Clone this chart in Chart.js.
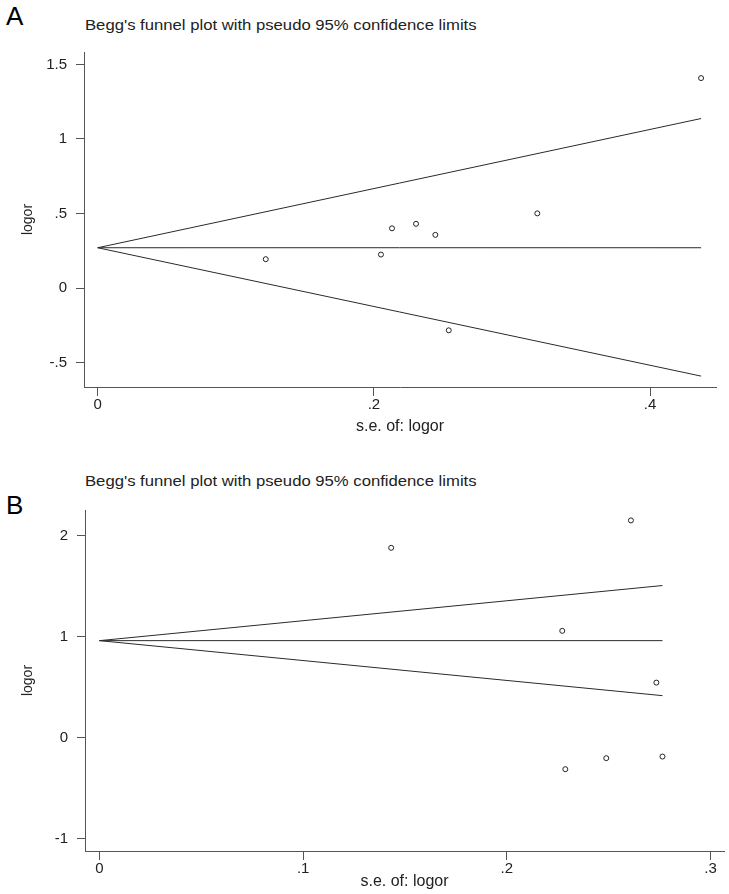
<!DOCTYPE html>
<html>
<head>
<meta charset="utf-8">
<script src="https://cdn.jsdelivr.net/npm/chart.js@4/dist/chart.umd.min.js"></script>
<style>
  body { margin: 0; background: #fff; width: 729px; height: 894px; position: relative; overflow: hidden; }
  canvas { position: absolute; left: 0; }
  .panel { position: absolute; left: 6px; font-family: "Liberation Sans", Arial, sans-serif; font-size: 26px; color: #000; }
  .title { position: absolute; left: 85px; font-family: "Liberation Sans", Arial, sans-serif; font-size: 14.5px; color: #222;
           transform: scaleX(1.15); transform-origin: left top; white-space: nowrap; }
</style>
</head>
<body>
<div class="panel" style="top:1px">A</div>
<div class="title" style="top:17px">Begg's funnel plot with pseudo 95% confidence limits</div>
<canvas id="chartA" width="729" height="406" style="top:34px"></canvas>

<div class="panel" style="top:490px">B</div>
<div class="title" style="top:473px">Begg's funnel plot with pseudo 95% confidence limits</div>
<canvas id="chartB" width="729" height="402" style="top:492px"></canvas>

<script>
// DATA
// -----------------------------------------------------------------------------
// Panel A studies
var seA    = [0.1217, 0.2051, 0.2131, 0.2305, 0.2445, 0.2542, 0.3183, 0.4369];
var logorA = [0.194, 0.225, 0.401, 0.431, 0.357, -0.283, 0.501, 1.408];
// Panel A pseudo 95% limits (start, end)
var limSeA    = [0, 0.4369];
var upperA    = [0.2706, 1.137];
var centerA   = [0.2706, 0.2706];
var lowerA    = [0.2706, -0.590];
var xTicksA   = [0, 0.2, 0.4];
var yTicksA   = [-0.5, 0, 0.5, 1, 1.5];

// Panel B studies
var seB    = [0.1432, 0.2272, 0.2287, 0.2488, 0.2609, 0.2734, 0.2764];
var logorB = [1.877, 1.056, -0.312, -0.203, 2.148, 0.544, -0.187];
// Panel B pseudo 95% limits (start, end)
var limSeB    = [0, 0.2764];
var upperB    = [0.959, 1.504];
var centerB   = [0.959, 0.959];
var lowerB    = [0.959, 0.415];
var xTicksB   = [0, 0.1, 0.2, 0.3];
var yTicksB   = [-1, 0, 1, 2];

// HELPERS
// -----------------------------------------------------------------------------
function pts(xs, ys) {
    return xs.map(function(x, i) { return { x: x, y: ys[i] }; });
}

// Stata style: ".5", "-.5"
function stataLabel(v) {
    var s = String(Math.round(v * 100) / 100);
    return s.replace(/^0\./, '.').replace(/^-0\./, '-.');
}

var fontFamily = '"Liberation Sans", Arial, sans-serif';

function lineSet(xs, ys) {
    return {
        type: 'line',
        data: pts(xs, ys),
        showLine: true,
        borderColor: '#2a2a2a',
        borderWidth: 1,
        pointRadius: 0,
        fill: false
    };
}

function makeChart(id, p) {
    return new Chart(document.getElementById(id), {
        type: 'scatter',
        data: {
            datasets: [
                {
                    data: pts(p.se, p.logor),
                    pointStyle: 'circle',
                    pointRadius: 2.5,
                    pointBorderWidth: 1,
                    pointBorderColor: '#222',
                    pointBackgroundColor: 'rgba(255,255,255,0)'
                },
                lineSet(p.limSe, p.upper),
                lineSet(p.limSe, p.center),
                lineSet(p.limSe, p.lower)
            ]
        },
        options: {
            responsive: false,
            animation: false,
            layout: { padding: { top: 10, right: p.padRight, left: 0, bottom: 0 } },
            plugins: { legend: { display: false }, tooltip: { enabled: false } },
            scales: {
                x: {
                    type: 'linear',
                    min: p.xMin, max: p.xMax,
                    afterBuildTicks: function(s) { s.ticks = p.xTicks.map(function(v) { return { value: v }; }); },
                    afterFit: function(s) { s.height = p.xHeight; },
                    grid: { drawOnChartArea: false, drawTicks: true, tickLength: 9, color: '#555' },
                    border: { display: true, color: '#555', width: 1 },
                    ticks: {
                        padding: 0, color: '#222', maxRotation: 0,
                        font: { family: fontFamily, size: 15 },
                        callback: function(v) { return stataLabel(v); }
                    },
                    title: {
                        display: true, text: 's.e. of: logor', color: '#222',
                        font: { family: fontFamily, size: 16 },
                        padding: { top: 0, bottom: p.xTitlePad }
                    }
                },
                y: {
                    type: 'linear',
                    min: p.yMin, max: p.yMax,
                    afterBuildTicks: function(s) { s.ticks = p.yTicks.map(function(v) { return { value: v }; }); },
                    afterFit: function(s) { s.width = p.yWidth; },
                    grid: { drawOnChartArea: false, drawTicks: true, tickLength: 8, color: '#555' },
                    border: { display: true, color: '#555', width: 1 },
                    ticks: {
                        padding: 9, color: '#222',
                        font: { family: fontFamily, size: 15 },
                        callback: function(v) { return stataLabel(v); }
                    },
                    title: {
                        display: true, text: 'logor', color: '#222',
                        font: { family: fontFamily, size: 14 },
                        padding: { top: 19.5, bottom: 0 }
                    }
                }
            }
        }
    });
}

// CHARTS
// -----------------------------------------------------------------------------
var chartA = makeChart('chartA', {
    se: seA, logor: logorA, limSe: limSeA, upper: upperA, center: centerA, lower: lowerA,
    xTicks: xTicksA, yTicks: yTicksA,
    xMin: -0.0099, xMax: 0.4477, yMin: -0.663, yMax: 1.583,
    padRight: 13, xHeight: 53, yWidth: 84, xTitlePad: 4
});

var chartB = makeChart('chartB', {
    se: seB, logor: logorB, limSe: limSeB, upper: upperB, center: centerB, lower: lowerB,
    xTicks: xTicksB, yTicks: yTicksB,
    xMin: -0.0071, xMax: 0.3066, yMin: -1.121, yMax: 2.251,
    padRight: 4, xHeight: 43, yWidth: 85, xTitlePad: 2.7
});
</script>
</body>
</html>
